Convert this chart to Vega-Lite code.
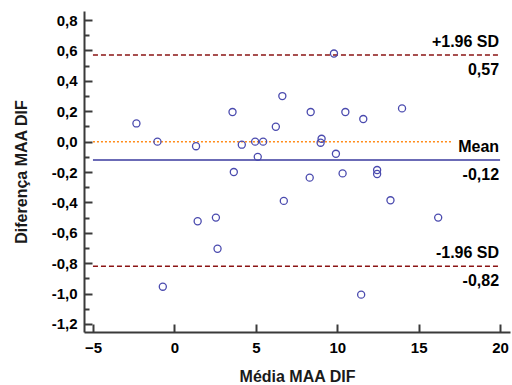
{
  "$schema": "https://vega.github.io/schema/vega-lite/v6.json",
  "width": 426,
  "height": 321,
  "autosize": {"type": "none"},
  "padding": {"left": 84, "top": 11, "right": 2, "bottom": 53},
  "background": "white",
  "config": {
    "view": {"stroke": null},
    "font": "Liberation Sans",
    "axis": {
      "grid": false,
      "domainColor": "#3a3a3a",
      "domainWidth": 2,
      "tickColor": "#3a3a3a",
      "tickWidth": 2,
      "labelColor": "#000000",
      "labelFontWeight": "bold",
      "labelFontSize": 15,
      "titleFontWeight": "bold",
      "titleFontSize": 16,
      "titleColor": "#1a1a1a"
    }
  },
  "datasets": {
    "points": [
      {"mean": -2.33, "diff": 0.12},
      {"mean": -1.04, "diff": 0.0},
      {"mean": 1.33, "diff": -0.03},
      {"mean": 3.57, "diff": 0.195},
      {"mean": 3.65, "diff": -0.2},
      {"mean": 4.14, "diff": -0.02},
      {"mean": 4.96, "diff": 0.0},
      {"mean": 5.45, "diff": 0.0},
      {"mean": 5.12, "diff": -0.1},
      {"mean": 6.23, "diff": 0.098},
      {"mean": 6.63, "diff": 0.3},
      {"mean": 6.72, "diff": -0.39},
      {"mean": 1.43, "diff": -0.524},
      {"mean": 2.55, "diff": -0.5},
      {"mean": 2.65, "diff": -0.705},
      {"mean": -0.71, "diff": -0.955},
      {"mean": 9.8, "diff": 0.58},
      {"mean": 8.37, "diff": 0.195},
      {"mean": 10.5, "diff": 0.195},
      {"mean": 11.6, "diff": 0.149},
      {"mean": 13.98, "diff": 0.219},
      {"mean": 9.04, "diff": 0.019},
      {"mean": 8.98, "diff": -0.007},
      {"mean": 9.92, "diff": -0.08},
      {"mean": 8.31, "diff": -0.237},
      {"mean": 10.33, "diff": -0.209},
      {"mean": 12.45, "diff": -0.187},
      {"mean": 12.45, "diff": -0.213},
      {"mean": 13.27, "diff": -0.386},
      {"mean": 16.2, "diff": -0.5},
      {"mean": 11.47, "diff": -1.007}
    ],
    "lines": [
      {"name": "upper", "diff": 0.57, "top": "+1.96 SD", "bottom": "0,57"},
      {"name": "mean", "diff": -0.12, "top": "Mean", "bottom": "-0,12"},
      {"name": "lower", "diff": -0.82, "top": "-1.96 SD", "bottom": "-0,82"},
      {"name": "zero", "diff": 0, "top": "", "bottom": ""}
    ]
  },
  "encoding": {
    "y": {
      "field": "diff",
      "type": "quantitative",
      "title": "Diferença MAA DIF",
      "scale": {"domain": [-1.253, 0.86], "nice": false, "zero": false},
      "axis": {
        "values": [-1.2, -1.1, -1.0, -0.9, -0.8, -0.7, -0.6, -0.5, -0.4, -0.3, -0.2, -0.1, 0, 0.1, 0.2, 0.3, 0.4, 0.5, 0.6, 0.7, 0.8],
        "labelExpr": "abs(round(datum.value*10))%2==1 ? '' : replace(replace(format(datum.value,'.1f'),'.',','),'−','-')",
        "tickSize": {"condition": {"test": "abs(round(datum.value*10))%2==1", "value": -5}, "value": -8},
        "labelPadding": 15,
        "titleX": -58,
        "titleBaseline": "alphabetic"
      }
    }
  },
  "layer": [
    {
      "data": {"name": "lines"},
      "transform": [{"filter": "datum.name == 'zero'"}],
      "mark": {"type": "rule", "color": "#ff8c1a", "strokeWidth": 1.5, "strokeDash": [2, 2]},
      "encoding": {
        "x": {"datum": -5, "type": "quantitative", "title": "Média MAA DIF",
              "scale": {"domain": [-5.55, 20.61], "nice": false, "zero": false},
              "axis": {"values": [-5, 0, 5, 10, 15, 20], "tickSize": -8, "labelPadding": 16, "titleY": 49, "titleBaseline": "alphabetic"}},
        "x2": {"datum": 17}
      }
    },
    {
      "data": {"name": "lines"},
      "transform": [{"filter": "datum.name == 'upper' || datum.name == 'lower'"}],
      "mark": {"type": "rule", "color": "#8b1414", "strokeWidth": 1.5, "strokeDash": [5, 3]},
      "encoding": {
        "x": {"datum": -5, "type": "quantitative", "title": "Média MAA DIF"},
        "x2": {"datum": 20}
      }
    },
    {
      "data": {"name": "lines"},
      "transform": [{"filter": "datum.name == 'mean'"}],
      "mark": {"type": "rule", "color": "#3a3a9e", "strokeWidth": 1.5},
      "encoding": {
        "x": {"datum": -5, "type": "quantitative", "title": "Média MAA DIF"},
        "x2": {"datum": 20}
      }
    },
    {
      "data": {"name": "points"},
      "mark": {"type": "point", "shape": "circle", "filled": false, "color": "#4a4aae", "size": 50, "strokeWidth": 1.3, "opacity": 1},
      "encoding": {
        "x": {"field": "mean", "type": "quantitative", "title": "Média MAA DIF"}
      }
    },
    {
      "data": {"name": "lines"},
      "transform": [{"filter": "datum.name != 'zero'"}],
      "mark": {"type": "text", "align": "right", "baseline": "alphabetic", "dx": -1, "dy": -8, "fontSize": 16, "fontWeight": "bold", "color": "#000000"},
      "encoding": {
        "x": {"datum": 20, "type": "quantitative", "title": "Média MAA DIF"},
        "text": {"field": "top"}
      }
    },
    {
      "data": {"name": "lines"},
      "transform": [{"filter": "datum.name != 'zero'"}],
      "mark": {"type": "text", "align": "right", "baseline": "alphabetic", "dx": -1, "dy": 20, "fontSize": 16, "fontWeight": "bold", "color": "#000000"},
      "encoding": {
        "x": {"datum": 20, "type": "quantitative", "title": "Média MAA DIF"},
        "text": {"field": "bottom"}
      }
    }
  ]
}
